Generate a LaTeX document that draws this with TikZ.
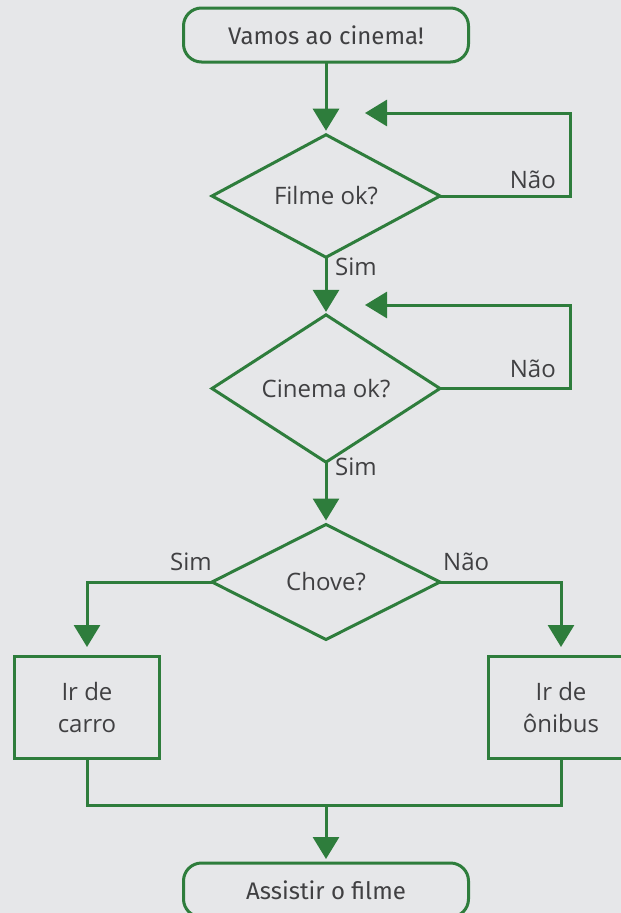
\documentclass[tikz,border=0pt]{standalone}
\usepackage{fontspec}
\setmainfont{Open Sans}
\newfontfamily\termfont{Fira Sans}
\usetikzlibrary{shapes.geometric,arrows.meta}
\definecolor{bg}{RGB}{230,231,233}
\definecolor{flow}{RGB}{46,125,60}
\definecolor{ink}{RGB}{64,64,66}
\tikzset{
  base/.style={draw=flow, line width=3pt, text=ink, inner sep=0pt, outer sep=0pt,
    font=\fontsize{24}{32}\selectfont},
  terminal/.style={base, rectangle, rounded corners=18pt, minimum width=285pt,
    minimum height=54pt, font=\termfont\fontsize{24}{32}\selectfont},
  decision/.style={base, diamond, minimum width=228pt, minimum height=115pt},
  action/.style={base, rectangle, minimum width=145pt, minimum height=102pt, align=center},
  link/.style={draw=flow, line width=3pt},
  arr/.style={link, -{Triangle[length=22pt,width=26pt]}},
  lbl/.style={text=ink, inner sep=0pt, font=\fontsize{24}{28}\selectfont}
}
\begin{document}
\begin{tikzpicture}[x=1pt, y=-1pt]
  % canvas
  \fill[bg] (0,0) rectangle (621,913);
  \clip (0,0) rectangle (621,913);

  % boxes
  \node[terminal] (start) at (326,35) {Vamos ao cinema!};
  \node[decision] (filme) at (326,196) {Filme ok?};
  \node[decision] (cine) at (326,388.5) {Cinema ok?};
  \node[decision] (chove) at (326,582) {Chove?};
  \node[action] (carro) at (87,707) {Ir de\\carro};
  \node[action] (onibus) at (561,707) {Ir de\\ônibus};
  \node[terminal] (fim) at (326,890) {Assistir o filme};

  % loop return points and the merge point
  \coordinate (back1) at (365,113);
  \coordinate (back2) at (365,305);
  \coordinate (merge) at (326,805);

  % main flow
  \draw[arr, shorten >=4pt] (start) -- (filme.north);
  \draw[arr, shorten >=3pt] (filme.south) -- (cine.north);
  \draw[arr, shorten >=4pt] (cine.south) -- (chove.north);

  % retry loops
  \draw[arr] (filme.east) -- ++(130,0) |- (back1);
  \draw[arr] (cine.east) -- ++(130,0) |- (back2);

  % rain branch
  \draw[arr, shorten >=9pt] (chove.west) -| (carro.north);
  \draw[arr, shorten >=9pt] (chove.east) -| (onibus.north);

  % join and finish
  \draw[link] (carro.south) |- (merge) -| (onibus.south);
  \draw[arr, shorten >=4pt] (merge) -- (fim.north);

  % labels
  \node[lbl, anchor=base east] (n1) at (556,188) {Não};
  \node[lbl, anchor=base west] (s1) at (335,275) {Sim};
  \node[lbl, anchor=base east] (n2) at (556,377) {Não};
  \node[lbl, anchor=base west] (s2) at (335,475) {Sim};
  \node[lbl, anchor=base east] (s3) at (212,570) {Sim};
  \node[lbl, anchor=base west] (n3) at (443,570) {Não};
\end{tikzpicture}
\end{document}
